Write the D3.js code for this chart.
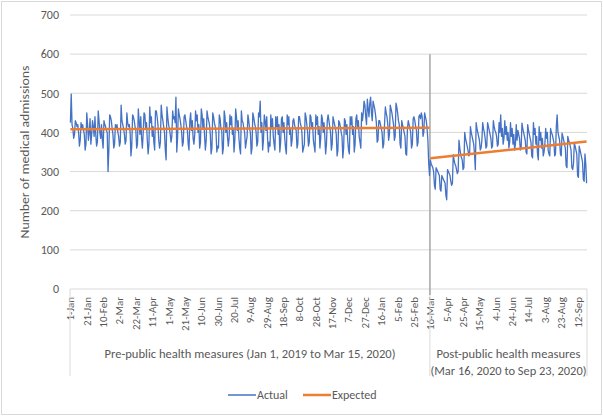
<!DOCTYPE html>
<html>
<head>
<meta charset="utf-8">
<script src="https://cdn.jsdelivr.net/npm/d3@7"></script>
<style>
  body { margin: 0; background: #fff; }
  text { font-family: Carlito, Calibri, Lato, sans-serif; fill: #595959; }
</style>
</head>
<body>
<div class="admissions"></div>
<script>
// daily medical admissions, Jan 1 2019 - Mar 15 2020 (440 days)
const actualPre = (
  "425 498 420 410 385 395 430 425 415 420 400 365 380 425 410 420 405 395 355 370 450 " +
  "420 380 400 435 370 395 430 415 390 440 395 365 375 455 430 400 385 420 380 360 430 " +
  "420 415 405 400 300 355 445 440 430 410 395 360 370 420 410 420 400 390 365 375 470 " +
  "430 420 410 395 370 380 450 425 415 420 400 340 365 445 440 430 415 405 360 370 460 " +
  "430 395 440 385 360 400 450 445 410 425 380 345 370 465 425 440 390 415 375 355 455 " +
  "455 440 420 380 360 375 470 445 430 415 400 355 330 465 440 420 410 395 375 390 455 " +
  "435 440 425 490 350 385 460 445 435 420 400 365 375 440 445 430 415 405 370 355 430 " +
  "450 405 430 385 370 395 455 430 445 400 420 360 375 460 445 410 435 390 355 380 455 " +
  "440 430 420 395 345 360 450 440 425 415 400 350 365 360 445 435 410 405 345 360 455 " +
  "440 400 425 390 365 385 445 420 440 395 410 350 380 460 440 405 430 385 360 345 455 " +
  "430 425 410 400 360 375 390 445 430 410 400 345 360 450 440 425 415 400 365 375 450 " +
  "440 480 400 425 355 380 445 430 405 440 385 350 375 365 445 410 435 390 370 355 440 " +
  "415 440 395 420 350 375 435 440 400 425 385 360 345 445 420 440 395 410 365 380 430 " +
  "435 420 410 405 360 370 440 440 425 415 400 350 360 370 450 440 420 400 365 375 445 " +
  "440 410 425 380 365 350 445 420 440 395 415 360 385 445 435 400 425 390 345 370 430 " +
  "445 430 415 400 355 370 440 430 420 410 395 340 355 430 425 415 400 390 335 360 435 " +
  "430 395 420 380 355 345 440 420 440 395 415 350 370 435 445 410 430 390 375 360 450 " +
  "430 450 480 470 440 420 485 460 440 475 490 450 430 480 470 460 445 425 375 380 430 " +
  "430 420 410 400 360 370 420 465 450 440 420 380 395 470 460 450 435 420 380 390 475 " +
  "465 450 430 420 370 360 430 420 410 400 390 345 342 410 430 420 410 400 360 370 435 " +
  "440 430 415 405 365 375 440 445 435 450 440 390 400 450 440 430 410 380 320 290"
).split(" ").map(Number);

// daily medical admissions, Mar 16 2020 - Sep 23 2020 (192 days)
const actualPost = (
  "330 320 315 310 300 265 255 310 305 300 295 290 255 250 290 285 280 275 270 240 228 " +
  "305 300 295 290 275 265 270 343 330 320 315 305 295 300 380 360 345 335 330 305 310 " +
  "400 385 375 365 355 340 345 415 400 390 380 370 345 305 425 410 400 390 380 355 360 " +
  "380 425 410 400 385 360 365 425 415 405 395 385 360 365 430 415 405 400 390 365 370 " +
  "425 400 445 390 410 370 385 430 395 415 380 400 360 375 425 390 410 370 395 355 370 " +
  "420 380 405 395 385 355 360 424 410 400 390 380 350 345 420 405 395 385 375 340 335 " +
  "425 395 410 370 390 345 330 415 380 400 360 385 340 350 370 410 385 400 355 345 340 " +
  "410 400 395 385 375 340 345 415 445 400 390 380 345 340 398 390 380 370 360 315 310 " +
  "390 380 375 365 355 310 305 320 373 365 355 345 290 285 365 355 345 335 325 280 275 " +
  "345 320 270"
).split(" ").map(Number);

const actual = actualPre.concat(actualPost);

// expected (fitted) values at the ends of each period: [day index, value]
const expectedPre = [[0, 408], [439, 412]];
const expectedPost = [[440, 334], [631, 377]];

const tickLabels = ["1-Jan", "21-Jan", "10-Feb", "2-Mar", "22-Mar", "11-Apr", "1-May", "21-May",
  "10-Jun", "30-Jun", "20-Jul", "9-Aug", "29-Aug", "18-Sep", "8-Oct", "28-Oct", "17-Nov", "7-Dec",
  "27-Dec", "16-Jan", "5-Feb", "25-Feb", "16-Mar", "5-Apr", "25-Apr", "15-May", "4-Jun", "24-Jun",
  "14-Jul", "3-Aug", "23-Aug", "12-Sep"];
const yTicks = [0, 100, 200, 300, 400, 500, 600, 700];
const periods = [
  { start: 0, end: 440, lines: ["Pre-public health measures (Jan 1, 2019 to Mar 15, 2020)"] },
  { start: 440, end: 632, lines: ["Post-public health measures", "(Mar 16, 2020 to Sep 23, 2020)"] }
];

const width = 603;
const height = 416;
const margin = { top: 15, right: 16, bottom: 127, left: 70 };

const svg = d3.select(".admissions")
  .append("svg")
  .attr("width", width)
  .attr("height", height);

// chart border
svg.append("rect")
  .attr("x", 1.5).attr("y", 1.5)
  .attr("width", width - 3).attr("height", height - 3)
  .attr("fill", "#fff")
  .attr("stroke", "#d9d9d9")

const x = d3.scaleBand()
  .domain(d3.range(actual.length))
  .range([margin.left, width - margin.right])
const cx = i => x(i) + x.bandwidth() / 2

const y = d3.scaleLinear()
  .domain([0, 700])
  .range([height - margin.bottom, margin.top])

// gridlines
svg.append("g")
  .selectAll("line")
  .data(yTicks.slice(1))
  .join("line")
  .attr("x1", margin.left)
  .attr("x2", width - margin.right)
  .attr("y1", d => y(d))
  .attr("y2", d => y(d))
  .attr("stroke", "#d9d9d9")
  .attr("stroke-width", 1)

// y axis
const yAxis = svg.append("g")
  .attr("transform", `translate(${margin.left}, 0)`)
  .call(d3.axisLeft(y).tickValues(yTicks).tickSize(0).tickPadding(11))
yAxis.select(".domain").remove()
yAxis.selectAll("text")
  .attr("font-size", "12")
  .attr("fill", "#595959")
  .style("font-family", "Carlito, Calibri, Lato, sans-serif")

svg.append("text")
  .text("Number of medical admissions")
  .attr("transform", `translate(29, ${(y(0) + y(700)) / 2}) rotate(-90)`)
  .attr("text-anchor", "middle")
  .attr("font-size", "13")
  .attr("textLength", 173)
  .attr("lengthAdjust", "spacingAndGlyphs")

// x axis (category labels every 20 days)
const xAxis = svg.append("g")
  .attr("transform", `translate(0, ${y(0)})`)
  .call(d3.axisBottom(x)
    .tickValues(d3.range(0, actual.length, 20))
    .tickFormat((d, i) => tickLabels[i])
    .tickSize(0))
xAxis.select(".domain").remove()
xAxis.selectAll("text")
  .attr("transform", "rotate(-90)")
  .attr("x", -8)
  .attr("y", 0)
  .attr("dy", "0.35em")
  .attr("text-anchor", "end")
  .attr("font-size", "11")
  .attr("fill", "#595959")
  .style("font-family", "Carlito, Calibri, Lato, sans-serif")

svg.append("line")
  .attr("x1", margin.left).attr("x2", width - margin.right)
  .attr("y1", y(0)).attr("y2", y(0))
  .attr("stroke", "#d9d9d9")

// period separators + labels
const seps = [0, 440, actual.length].map(i => i < actual.length ? x(i) : x(i - 1) + x.bandwidth())
svg.selectAll("line.sep")
  .data(seps)
  .join("line")
  .attr("class", "sep")
  .attr("x1", d => d).attr("x2", d => d)
  .attr("y1", y(0)).attr("y2", y(0) + 87)
  .attr("stroke", "#d9d9d9")

periods.forEach(p => {
  const mid = (x(p.start) + x(p.end - 1) + x.bandwidth()) / 2
  svg.append("text")
    .attr("x", mid)
    .attr("y", y(0) + 69)
    .attr("text-anchor", "middle")
    .attr("font-size", "12")
    .selectAll("tspan")
    .data(p.lines)
    .join("tspan")
    .attr("x", mid)
    .attr("dy", (d, i) => i === 0 ? 0 : 16.5)
    .attr("textLength", d => d.length > 40 ? 291 : (d.startsWith("(") ? 156 : 144))
    .attr("lengthAdjust", "spacingAndGlyphs")
    .text(d => d)
})

// intervention marker
svg.append("line")
  .attr("x1", x(440)).attr("x2", x(440))
  .attr("y1", y(600)).attr("y2", y(0) + 6)
  .attr("stroke", "#a6a6a6")
  .attr("stroke-width", 1.5)

// actual line
const line = d3.line()
  .x((d, i) => cx(i))
  .y(d => y(d))

svg.append("path")
  .datum(actual)
  .attr("fill", "none")
  .attr("stroke", "#4472c4")
  .attr("stroke-width", 1.3)
  .attr("stroke-linejoin", "round")
  .attr("d", line)

// expected lines
const lineExp = d3.line()
  .x(d => cx(d[0]))
  .y(d => y(d[1]))

svg.selectAll("path.expected")
  .data([expectedPre, expectedPost])
  .join("path")
  .attr("class", "expected")
  .attr("fill", "none")
  .attr("stroke", "#ed7d31")
  .attr("stroke-width", 2.5)
  .attr("d", lineExp)

// legend
const legend = [
  { name: "Actual", color: "#4472c4", w: 1.5, x: 228 },
  { name: "Expected", color: "#ed7d31", w: 2.5, x: 303 }
]
const lg = svg.selectAll("g.legend")
  .data(legend)
  .join("g")
  .attr("class", "legend")
  .attr("transform", d => `translate(${d.x}, 395)`)
lg.append("line")
  .attr("x1", 0).attr("x2", 28)
  .attr("stroke", d => d.color)
  .attr("stroke-width", d => d.w)
lg.append("text")
  .attr("x", 29)
  .attr("dy", "0.35em")
  .attr("font-size", "12")
  .text(d => d.name)
</script>
</body>
</html>
